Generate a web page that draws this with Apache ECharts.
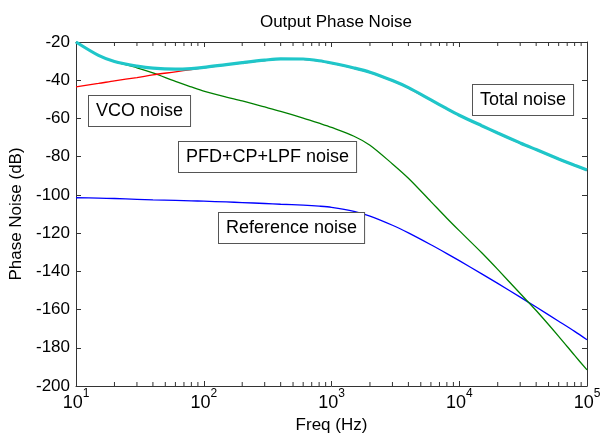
<!DOCTYPE html>
<html>
<head>
<meta charset="utf-8">
<script src="https://cdn.jsdelivr.net/npm/echarts@6/dist/echarts.min.js"></script>
<style>html,body{margin:0;padding:0;background:#fff}#c{width:602px;height:436px}</style>
</head>
<body>
<div id="c"></div>
<script>
// ---- data ----
var freq = [10, 15, 20, 30, 40, 60, 80, 100, 150, 200, 300, 400, 600, 800, 1000, 1500, 2000, 3000, 4000, 6000, 8000, 10000, 15000, 20000, 30000, 40000, 60000, 80000, 100000];

var totalNoise = [-20, -27, -30.2, -32.6, -33.7, -34.2, -33.9, -33.3, -31.8, -30.8, -29.5, -28.8, -28.9, -29.8, -31, -33.6, -35.8, -40.2, -43.9, -50.3, -54.9, -58.3, -63.8, -67.6, -72.8, -76.3, -81.2, -84.5, -87];

var vcoNoise = [-43.5, -41.7, -40.3, -38.6, -37.2, -35.6, -34.4, -33.5, -32, -31, -29.7, -29, -29.1, -30, -31.2, -33.8, -36, -40.4, -44.1, -50.5, -55.1, -58.5, -64, -67.8, -73, -76.5, -81.4, -84.7, -87.2];

var pfdNoise = [-20, -27, -30.3, -33.5, -36.2, -40.6, -43.5, -45.7, -48.8, -50.8, -54, -56.3, -59.8, -62.5, -64.7, -69.3, -74, -83.8, -91.3, -103.5, -112.2, -118.7, -130.3, -139, -151.6, -160.5, -174, -184, -191.6];

var refNoise = [-101.5, -101.7, -101.9, -102.3, -102.6, -102.9, -103.1, -103.3, -103.7, -104, -104.5, -104.9, -105.4, -105.9, -106.5, -108.6, -111.1, -115.9, -119.9, -126.1, -130.7, -134.4, -141.3, -146.3, -153.5, -158.7, -166.1, -171.4, -175.8];

var minorFreqs = [20,30,40,50,60,70,80,90,200,300,400,500,600,700,800,900,2000,3000,4000,5000,6000,7000,8000,9000,20000,30000,40000,50000,60000,70000,80000,90000];

var titleText = 'Output Phase Noise';
var xName = 'Freq (Hz)';
var yName = 'Phase Noise (dB)';
var labelTexts = ['VCO noise', 'Total noise', 'PFD+CP+LPF noise', 'Reference noise'];

function pairs(xs, ys) { return xs.map(function (x, i) { return [x, ys[i]]; }); }

var chart = echarts.init(document.getElementById('c'), null, { renderer: 'canvas' });
var FONT = '"Liberation Sans", Arial, sans-serif';
var axisCol = '#333';

function expLabel(v) {
  var e = Math.round(Math.log(v) / Math.LN10);
  return '{b|10}{s|' + e + '}';
}

var xCommon = {
  type: 'log', logBase: 10, min: 10, max: 100000,
  axisLine: { show: true, lineStyle: { color: axisCol, width: 1 } },
  axisTick: { show: true, inside: true, length: 5, lineStyle: { color: axisCol } },
  splitLine: { show: false }
};
var yCommon = {
  type: 'value', min: -200, max: -20, interval: 20,
  axisLine: { show: true, lineStyle: { color: axisCol, width: 1 } },
  axisTick: { show: true, inside: true, length: 5, lineStyle: { color: axisCol } },
  splitLine: { show: false }
};

var boxStyle = function (t, x, y) {
  return {
    type: 'text', left: x, top: y, z: 100,
    style: {
      text: t, fill: '#000', font: '18px ' + FONT,
      backgroundColor: '#fff', borderColor: '#555', borderWidth: 1,
      padding: [6, 7, 6, 7]
    }
  };
};

var option = {
  backgroundColor: '#fff',
  animation: false,
  title: {
    text: titleText, left: 331, top: 9, textAlign: 'center',
    textStyle: { fontFamily: FONT, fontSize: 17, fontWeight: 'normal', color: '#000' }
  },
  grid: { left: 76, right: 15, top: 42, bottom: 50, containLabel: false, outerBoundsMode: 'none' },
  xAxis: [
    Object.assign({}, xCommon, {
      position: 'bottom',
      name: xName, nameLocation: 'middle', nameGap: 29,
      nameTextStyle: { fontFamily: FONT, fontSize: 17, color: '#000' },
      axisLabel: {
        margin: 2, color: '#000', formatter: expLabel,
        rich: {
          b: { fontFamily: FONT, fontSize: 18, color: '#000', lineHeight: 24, verticalAlign: 'bottom' },
          s: { fontFamily: FONT, fontSize: 12, color: '#000', lineHeight: 13, verticalAlign: 'top' }
        }
      }
    }),
    Object.assign({}, xCommon, { position: 'top', axisLabel: { show: false } })
  ],
  yAxis: [
    Object.assign({}, yCommon, {
      position: 'left',
      name: yName, nameLocation: 'middle', nameGap: 48, nameRotate: 90,
      nameTextStyle: { fontFamily: FONT, fontSize: 17, color: '#000' },
      axisLabel: { margin: 6, color: '#000', fontFamily: FONT, fontSize: 17 }
    }),
    Object.assign({}, yCommon, { position: 'right', axisLabel: { show: false } })
  ],
  series: [
    {
      name: 'Reference noise', type: 'line', data: pairs(freq, refNoise),
      smooth: 0.3, symbol: 'none', lineStyle: { color: '#0000ff', width: 1.3 }, z: 2
    },
    {
      name: 'PFD+CP+LPF noise', type: 'line', data: pairs(freq, pfdNoise),
      smooth: 0.3, symbol: 'none', lineStyle: { color: '#008000', width: 1.3 }, z: 3
    },
    {
      name: 'VCO noise', type: 'line', data: pairs(freq, vcoNoise),
      smooth: 0.3, symbol: 'none', lineStyle: { color: '#ff0000', width: 1.3 }, z: 4
    },
    {
      name: 'Total noise', type: 'line', data: pairs(freq, totalNoise),
      smooth: 0.3, symbol: 'none', lineStyle: { color: '#1fc6c9', width: 3.2 }, z: 5
    },
    {
      name: 'minor ticks', type: 'custom', silent: true, z: 6,
      data: minorFreqs.map(function (f) { return [f]; }),
      renderItem: function (params, api) {
        var pb = api.coord([api.value(0), -200]);
        var pt = api.coord([api.value(0), -20]);
        return {
          type: 'group',
          children: [
            { type: 'line', shape: { x1: pb[0], y1: pb[1], x2: pb[0], y2: pb[1] - 4 }, style: { stroke: axisCol, lineWidth: 1 } },
            { type: 'line', shape: { x1: pt[0], y1: pt[1], x2: pt[0], y2: pt[1] + 4 }, style: { stroke: axisCol, lineWidth: 1 } }
          ]
        };
      }
    }
  ],
  graphic: [
    boxStyle(labelTexts[0], 88, 95),
    boxStyle(labelTexts[1], 472, 84),
    boxStyle(labelTexts[2], 178, 141),
    boxStyle(labelTexts[3], 218, 212)
  ]
};
chart.setOption(option);
</script>
</body>
</html>
